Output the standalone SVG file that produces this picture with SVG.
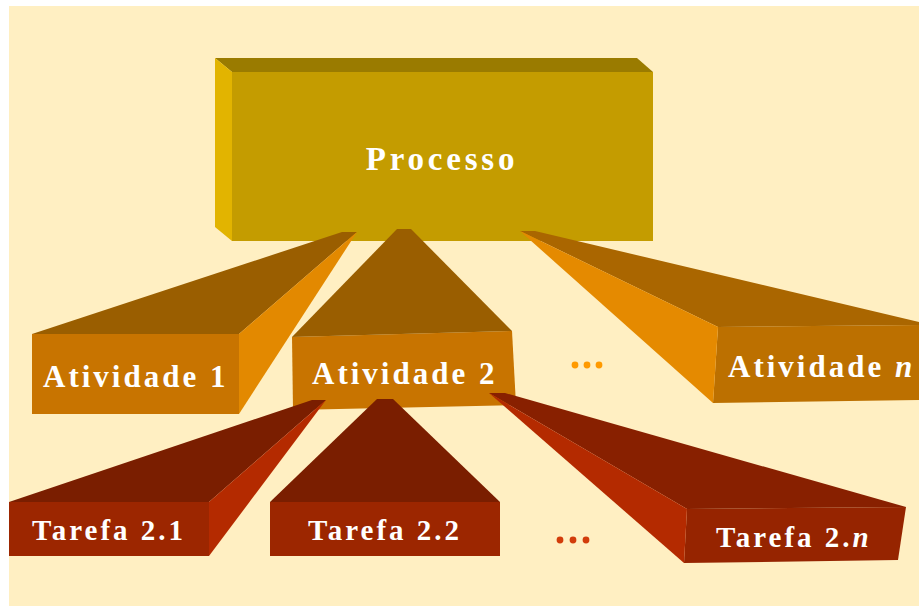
<svg xmlns="http://www.w3.org/2000/svg" width="919" height="606" viewBox="0 0 919 606">
  <style>
    .lbl { font-family: "Liberation Serif", "Times New Roman", serif; font-weight: bold; fill: #FFFFFF; }
    .big { font-size: 33px; }
    .mid { font-size: 31px; letter-spacing: 3px; }
    .sm { font-size: 29px; letter-spacing: 3px; }
    .it { font-style: italic; }
  </style>

  <!-- page -->
  <rect x="0" y="0" width="919" height="606" fill="#FFFFFF"/>
  <rect x="9" y="6" width="910" height="600" fill="#FFEFC2"/>

  <!-- top level block -->
  <g id="processo">
    <polygon points="215,58 637,58 653,72 232,72" fill="#9A7B00"/>
    <polygon points="215,58 232,72 232,241 215,227" fill="#E2B400"/>
    <rect x="232" y="72" width="421" height="169" fill="#C49C00"/>
    <text class="lbl big" x="442" y="170" text-anchor="middle" letter-spacing="3.8">Processo</text>
  </g>

  <!-- second level blocks -->
  <g id="atividade-1">
    <rect x="32" y="334" width="207" height="80" fill="#C87400"/>
    <text class="lbl mid" x="43" y="387">Atividade 1</text>
  </g>

  <g id="atividade-2">
    <polygon points="292,337 512,331 516,405 293,410" fill="#C87400"/>
    <text class="lbl mid" x="312" y="384">Atividade 2</text>
  </g>

  <g id="atividade-n">
    <polygon points="718,327 919,325 919,400 713,403" fill="#BC7000"/>
    <text class="lbl mid" x="728" y="377">Atividade <tspan class="it">n</tspan></text>
  </g>

  <!-- third level blocks -->
  <g id="tarefa-2-1">
    <rect x="9" y="502" width="200" height="54" fill="#9C2600"/>
    <text class="lbl sm" x="32" y="540">Tarefa 2.1</text>
  </g>

  <g id="tarefa-2-2">
    <rect x="270" y="502" width="230" height="54" fill="#9C2600"/>
    <text class="lbl sm" x="308" y="540">Tarefa 2.2</text>
  </g>

  <g id="tarefa-2-n">
    <polygon points="687,509 906,507 898,560 684,563" fill="#962400"/>
    <text class="lbl sm" x="716" y="547">Tarefa 2.<tspan class="it">n</tspan></text>
  </g>

  <!-- ellipses marking omitted siblings -->
  <g id="more-atividades" fill="#FF9A00">
    <circle cx="575" cy="365" r="3.4"/>
    <circle cx="587" cy="365" r="3.4"/>
    <circle cx="599" cy="365" r="3.4"/>
  </g>
  <g id="more-tarefas" fill="#D23C0A">
    <circle cx="560" cy="540" r="3.4"/>
    <circle cx="573" cy="540" r="3.4"/>
    <circle cx="586" cy="540" r="3.4"/>
  </g>

  <!-- tapering perspective faces linking each block to its parent -->
  <g id="connectors">
    <!-- Processo -> Atividade 1 -->
    <polygon points="32,334 239,334 357,232 342,232" fill="#9A5E00"/>
    <polygon points="239,334 357,232 239,414" fill="#E38900"/>
    <!-- Processo -> Atividade 2 -->
    <polygon points="292,337 512,331 411,229 397,229" fill="#9A5E00"/>
    <!-- Processo -> Atividade n -->
    <polygon points="520,231 535,231 919,322 919,325 718,327" fill="#AA6600"/>
    <polygon points="520,231 718,327 713,403" fill="#E58A00"/>
    <!-- Atividade 2 -> Tarefa 2.1 -->
    <polygon points="9,502 209,502 326,400 312,400" fill="#7A1E00"/>
    <polygon points="209,502 326,400 209,556" fill="#B42A00"/>
    <!-- Atividade 2 -> Tarefa 2.2 -->
    <polygon points="270,502 500,502 393,399 377,399" fill="#7A1E00"/>
    <!-- Atividade 2 -> Tarefa 2.n -->
    <polygon points="489,393 505,393 906,507 687,509" fill="#882000"/>
    <polygon points="489,393 687,509 684,563" fill="#B42A00"/>
  </g>
</svg>
